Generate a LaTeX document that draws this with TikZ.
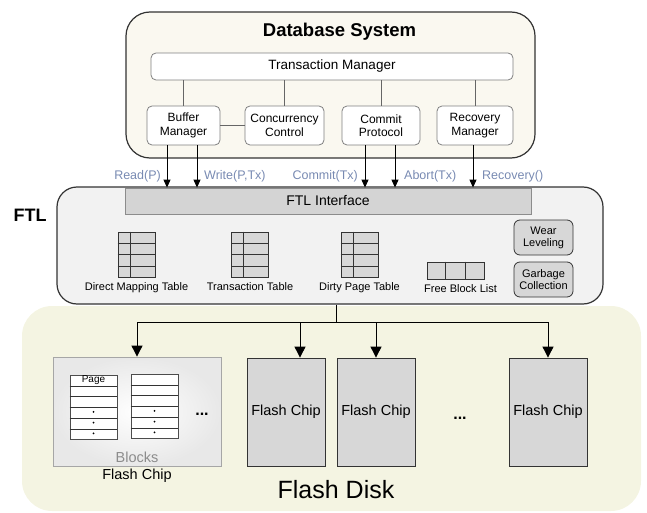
\documentclass[tikz,border=0pt]{standalone}
\usepackage{fontspec}
\setmainfont{Liberation Sans}
\usetikzlibrary{arrows.meta,calc,positioning}

\definecolor{dbfill}{RGB}{250,248,240}
\definecolor{ftlfill}{RGB}{242,242,242}
\definecolor{diskfill}{RGB}{244,244,226}
\definecolor{cellgray}{RGB}{215,215,215}
\definecolor{linedark}{RGB}{51,51,51}
\definecolor{callblue}{RGB}{120,138,178}

\begin{document}
\begin{tikzpicture}[x=1pt,y=-1pt,
 every node/.style={align=center,inner sep=0pt,font={\fontsize{12}{13.5}\selectfont}},
 frame/.style={draw=linedark,line width=1.2pt},
 unit/.style={draw=black!50,fill=white,rounded corners=5pt,line width=0.8pt,minimum height=39pt},
 tool/.style={draw=linedark,fill=cellgray,rounded corners=6pt,line width=0.8pt,minimum width=59pt,minimum height=35pt,font={\fontsize{11}{12}\selectfont}},
 cell/.style={draw=linedark,fill=cellgray,line width=0.8pt},
 page/.style={draw=black!70,fill=white,line width=0.8pt,minimum width=47pt,minimum height=64pt},
 chip/.style={draw=linedark,fill=cellgray,line width=0.8pt,minimum width=78pt,minimum height=108pt,font={\fontsize{14.5}{16}\selectfont}},
 label/.style={font={\fontsize{11}{12}\selectfont}},
 calltext/.style={text=callblue,font={\fontsize{12.5}{14}\selectfont}},
 more/.style={anchor=base,font={\bfseries\fontsize{16}{18}\selectfont}},
 link/.style={draw=black!60,line width=0.8pt},
 call/.style={-{Triangle[length=8pt,width=7pt]},line width=0.9pt},
 drop/.style={-{Triangle[length=11pt,width=11pt]},line width=0.9pt}]
\useasboundingbox (0,0) rectangle (647,513);

% flash disk area (background)
\node[fill=diskfill,rounded corners=30pt,minimum width=619pt,minimum height=205pt] (disk) at (331.5,408.5) {};

% database system
\node[frame,fill=dbfill,rounded corners=24pt,minimum width=409pt,minimum height=146pt] (dbsys) at (330.5,85) {};
\node[anchor=base,font={\bfseries\fontsize{18.5}{20}\selectfont}] (dbtitle) at (339.5,37) {Database System};
\node[unit,minimum width=362pt,minimum height=27pt,font={\fontsize{13.5}{15}\selectfont}] (txmgr) at (332,66.5) {Transaction Manager};
\node[unit,minimum width=73pt] (bufmgr) at (183.5,125.5) {Buffer\\Manager};
\node[unit,minimum width=79pt] (concur) at (284.5,125.5) {Concurrency\\Control};
\node[unit,minimum width=78pt] (commit) at (381,125.5) {Commit\\Protocol};
\node[unit,minimum width=76pt] (recov) at (475,125.5) {Recovery\\Manager};
\foreach \u in {bufmgr,concur,commit,recov}
  \draw[link] (txmgr.south -| \u.north) -- (\u.north);
\draw[link] (bufmgr.east) -- (concur.west);

% FTL layer
\node[frame,fill=ftlfill,rounded corners=20pt,minimum width=546pt,minimum height=117pt] (ftl) at (330,245.5) {};
\node[font={\bfseries\fontsize{18}{20}\selectfont}] (ftllabel) at (30,215) {FTL};
\node[draw=black!45,fill=black!17,line width=0.8pt,minimum width=406pt,minimum height=26pt,font={\fontsize{14}{16}\selectfont}] (ftlif) at (328,201) {FTL Interface};

% calls into the FTL interface
\draw[call] ([xshift=-16.5pt]bufmgr.south) -- ([xshift=-16.5pt]bufmgr.south |- ftlif.north);
\draw[call] ([xshift=13.5pt]bufmgr.south) -- ([xshift=13.5pt]bufmgr.south |- ftlif.north);
\draw[call] ([xshift=-16pt]commit.south) -- ([xshift=-16pt]commit.south |- ftlif.north);
\draw[call] ([xshift=14pt]commit.south) -- ([xshift=14pt]commit.south |- ftlif.north);
\draw[call] ([xshift=-2pt]recov.south) -- ([xshift=-2pt]recov.south |- ftlif.north);
\node[calltext,anchor=east] (readp) at (161,176) {Read(P)};
\node[calltext,anchor=west] (writep) at (204,176) {Write(P,Tx)};
\node[calltext,anchor=east] (committx) at (358,176) {Commit(Tx)};
\node[calltext,anchor=west] (aborttx) at (404,176) {Abort(Tx)};
\node[calltext,anchor=west] (recovery) at (482,176) {Recovery()};

% mapping tables
\node[cell,minimum width=37pt,minimum height=45pt] (dmt) at (136.5,254.5) {};
\node[cell,minimum width=37pt,minimum height=45pt] (tt) at (250,254.5) {};
\node[cell,minimum width=37pt,minimum height=45pt] (dpt) at (359.5,254.5) {};
\foreach \t in {dmt,tt,dpt} {
  \draw[linedark,line width=0.8pt] ($(\t.north west)!0.33!(\t.north east)$) -- ($(\t.south west)!0.33!(\t.south east)$);
  \foreach \i in {1,2,3}
    \draw[linedark,line width=0.8pt] ($(\t.north west)!\i/4!(\t.south west)$) -- ($(\t.north east)!\i/4!(\t.south east)$);
}
\node[cell,minimum width=57pt,minimum height=17pt] (fbl) at (455.5,270.5) {};
\foreach \i in {1,2}
  \draw[linedark,line width=0.8pt] ($(fbl.north west)!\i/3!(fbl.north east)$) -- ($(fbl.south west)!\i/3!(fbl.south east)$);
\node[label,below=5pt of dmt] (dmtlabel) {Direct Mapping Table};
\node[label,below=5pt of tt] (ttlabel) {Transaction Table};
\node[label,below=5pt of dpt] (dptlabel) {Dirty Page Table};
\node[label,below=5pt of fbl,xshift=5pt] (fbllabel) {Free Block List};
\node[tool] (wear) at (543.5,237.5) {Wear\\Leveling};
\node[tool] (gc) at (543.5,279.5) {Garbage\\Collection};

% flash chips
\node[draw=black!35,line width=0.8pt,inner color=white,outer color=black!9,minimum width=168pt,minimum height=109pt] (blocks) at (137,411.5) {};
\node[page] (blk1) at (93.5,407.5) {};
\node[page] (blk2) at (154.5,406.5) {};
\foreach \b in {blk1,blk2} {
  \foreach \i in {1,...,5}
    \draw[black!80,line width=0.8pt] ($(\b.north west)!\i/6!(\b.south west)$) -- ($(\b.north east)!\i/6!(\b.south east)$);
  \foreach \i in {4,5,6}
    \fill ($(\b.north)!{(\i-0.6)/6}!(\b.south)$) circle (1pt);
}
\node[font={\fontsize{10}{11}\selectfont}] (pagetag) at ($(blk1.north)!1/12!(blk1.south)$) {Page};
\node[more] (moreblk) at (202,415) {...};
\node[text=black!45,font={\fontsize{14.5}{16}\selectfont}] (blklabel) at (137,457) {Blocks};
\node[font={\fontsize{14.5}{16}\selectfont}] (chiplabel) at (137,476) {Flash Chip};
\node[chip] (chip1) at (286,412) {Flash Chip};
\node[chip] (chip2) at (376,412) {Flash Chip};
\node[chip] (chip3) at (548,412) {Flash Chip};
\node[more] (morechip) at (460,419) {...};
\node[font={\fontsize{25}{28}\selectfont}] (disklabel) at (336,490) {Flash Disk};

% FTL fans out to the chips
\coordinate (split) at (336,322);
\draw[line width=0.9pt] (split |- ftl.south) -- (split);
\draw[line width=0.9pt] (split -| blocks.north) -- (split -| chip3.north);
\draw[drop] (split -| blocks.north) -- (blocks.north);
\draw[drop] ([xshift=14pt]chip1.north |- split) -- ([xshift=14pt]chip1.north);
\draw[drop] (split -| chip2.north) -- (chip2.north);
\draw[drop] (split -| chip3.north) -- (chip3.north);
\end{tikzpicture}
\end{document}
